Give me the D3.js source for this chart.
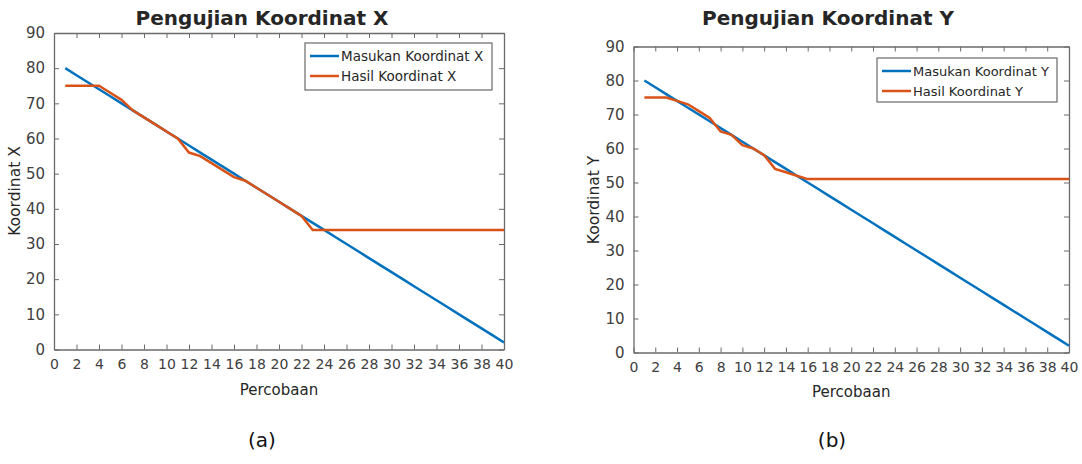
<!DOCTYPE html>
<html>
<head>
<meta charset="utf-8">
<script src="https://d3js.org/d3.v7.min.js"></script>
<style>
  body { margin: 0; background: #fff; }
  svg { display: block; font-family: "DejaVu Sans", Verdana, sans-serif; }
  .tick text { fill: #404040; }
</style>
</head>
<body>
<svg id="chart" width="1082" height="464"></svg>
<script>
// percobaan (trial number)
var percobaan = [1,2,3,4,5,6,7,8,9,10,11,12,13,14,15,16,17,18,19,20,
                 21,22,23,24,25,26,27,28,29,30,31,32,33,34,35,36,37,38,39,40];

// input coordinates (same for X and Y tests)
var masukanX = [80,78,76,74,72,70,68,66,64,62,60,58,56,54,52,50,48,46,44,42,
                40,38,36,34,32,30,28,26,24,22,20,18,16,14,12,10,8,6,4,2];
var masukanY = [80,78,76,74,72,70,68,66,64,62,60,58,56,54,52,50,48,46,44,42,
                40,38,36,34,32,30,28,26,24,22,20,18,16,14,12,10,8,6,4,2];

// measured results
var hasilX = [75,75,75,75,73,71,68,66,64,62,60,56,55,53,51,49,48,46,44,42,
              40,38,34,34,34,34,34,34,34,34,34,34,34,34,34,34,34,34,34,34];
var hasilY = [75,75,75,74,73,71,69,65,64,61,60,58,54,53,52,51,51,51,51,51,
              51,51,51,51,51,51,51,51,51,51,51,51,51,51,51,51,51,51,51,51];

var xTicks = d3.range(0, 41, 2);
var yTicks = d3.range(0, 91, 10);

var blue = "#0072BD", orange = "#D95319", frame = "#6a6a6a";

var svg = d3.select("#chart");

var panels = [
  {left: 54, right: 504, top: 33, bottom: 349.5, title: "Pengujian Koordinat X", titleX: 262,
   ylab: "Koordinat X", ylabX: 20, ylabY: 191, xlabY: 395, input: masukanX, hasil: hasilX,
   legend: {x: 305, y: 43, w: 187, h: 47, fs: 13.5}, names: ["Masukan Koordinat X", "Hasil Koordinat X"],
   caption: "(a)", capX: 262},
  {left: 633.5, right: 1069, top: 46.5, bottom: 352.5, title: "Pengujian Koordinat Y", titleX: 828,
   ylab: "Koordinat Y", ylabX: 599, ylabY: 200, xlabY: 397, input: masukanY, hasil: hasilY,
   legend: {x: 877, y: 58, w: 180, h: 44, fs: 13}, names: ["Masukan Koordinat Y", "Hasil Koordinat Y"],
   caption: "(b)", capX: 832}
];

panels.forEach(function(p) {
  var x = d3.scaleLinear().domain([0, 40]).range([p.left, p.right]);
  var y = d3.scaleLinear().domain([0, 90]).range([p.bottom, p.top]);
  var g = svg.append("g");

  // axes, MATLAB-style inward ticks on all four sides
  var bx = g.append("g").attr("transform", "translate(0," + p.bottom + ")")
    .call(d3.axisBottom(x).tickValues(xTicks).tickSizeInner(-5).tickSizeOuter(0).tickPadding(10));
  bx.selectAll("text").style("font-size", "14px");
  g.append("g").attr("transform", "translate(0," + p.top + ")")
    .call(d3.axisTop(x).tickValues(xTicks).tickSizeInner(-5).tickSizeOuter(0).tickFormat(""));
  var ly = g.append("g").attr("transform", "translate(" + p.left + ",0)")
    .call(d3.axisLeft(y).tickValues(yTicks).tickSizeInner(-5).tickSizeOuter(0).tickPadding(9));
  ly.selectAll("text").style("font-size", "15px");
  g.append("g").attr("transform", "translate(" + p.right + ",0)")
    .call(d3.axisRight(y).tickValues(yTicks).tickSizeInner(-5).tickSizeOuter(0).tickFormat(""));
  g.selectAll("g").attr("font-family", null);
  g.selectAll(".domain, .tick line").attr("stroke", frame);
  g.selectAll(".domain").attr("stroke-width", 1.3);

  var line = d3.line().x(function(d, i) { return x(percobaan[i]); }).y(function(d) { return y(d); });

  g.append("path").datum(p.input).attr("d", line)
    .attr("fill", "none").attr("stroke", blue).attr("stroke-width", 2.5);
  g.append("path").datum(p.hasil).attr("d", line)
    .attr("fill", "none").attr("stroke", orange).attr("stroke-width", 2.5);

  // legend
  var L = p.legend;
  g.append("rect").attr("x", L.x).attr("y", L.y).attr("width", L.w).attr("height", L.h)
    .attr("fill", "#fff").attr("stroke", frame).attr("stroke-width", 1.2);
  [blue, orange].forEach(function(c, i) {
    var ry = L.y + 13 + i * 20;
    g.append("line").attr("x1", L.x + 5).attr("x2", L.x + 34).attr("y1", ry).attr("y2", ry)
      .attr("stroke", c).attr("stroke-width", 2.5);
    g.append("text").attr("x", L.x + 36).attr("y", ry + 5).attr("fill", "#262626")
      .style("font-size", L.fs + "px").text(p.names[i]);
  });

  // labels
  g.append("text").attr("x", p.titleX).attr("y", 25).attr("text-anchor", "middle")
    .attr("fill", "#262626").style("font-size", "20px").style("font-weight", "bold").text(p.title);
  g.append("text").attr("transform", "translate(" + p.ylabX + "," + p.ylabY + ") rotate(-90)")
    .attr("text-anchor", "middle").attr("fill", "#262626").style("font-size", "15.5px").text(p.ylab);
  g.append("text").attr("x", (p.left + p.right) / 2).attr("y", p.xlabY).attr("text-anchor", "middle")
    .attr("fill", "#262626").style("font-size", "15px").text("Percobaan");
  g.append("text").attr("x", p.capX).attr("y", 447).attr("text-anchor", "middle")
    .attr("fill", "#111").style("font-size", "20px").text(p.caption);
});
</script>
</body>
</html>
